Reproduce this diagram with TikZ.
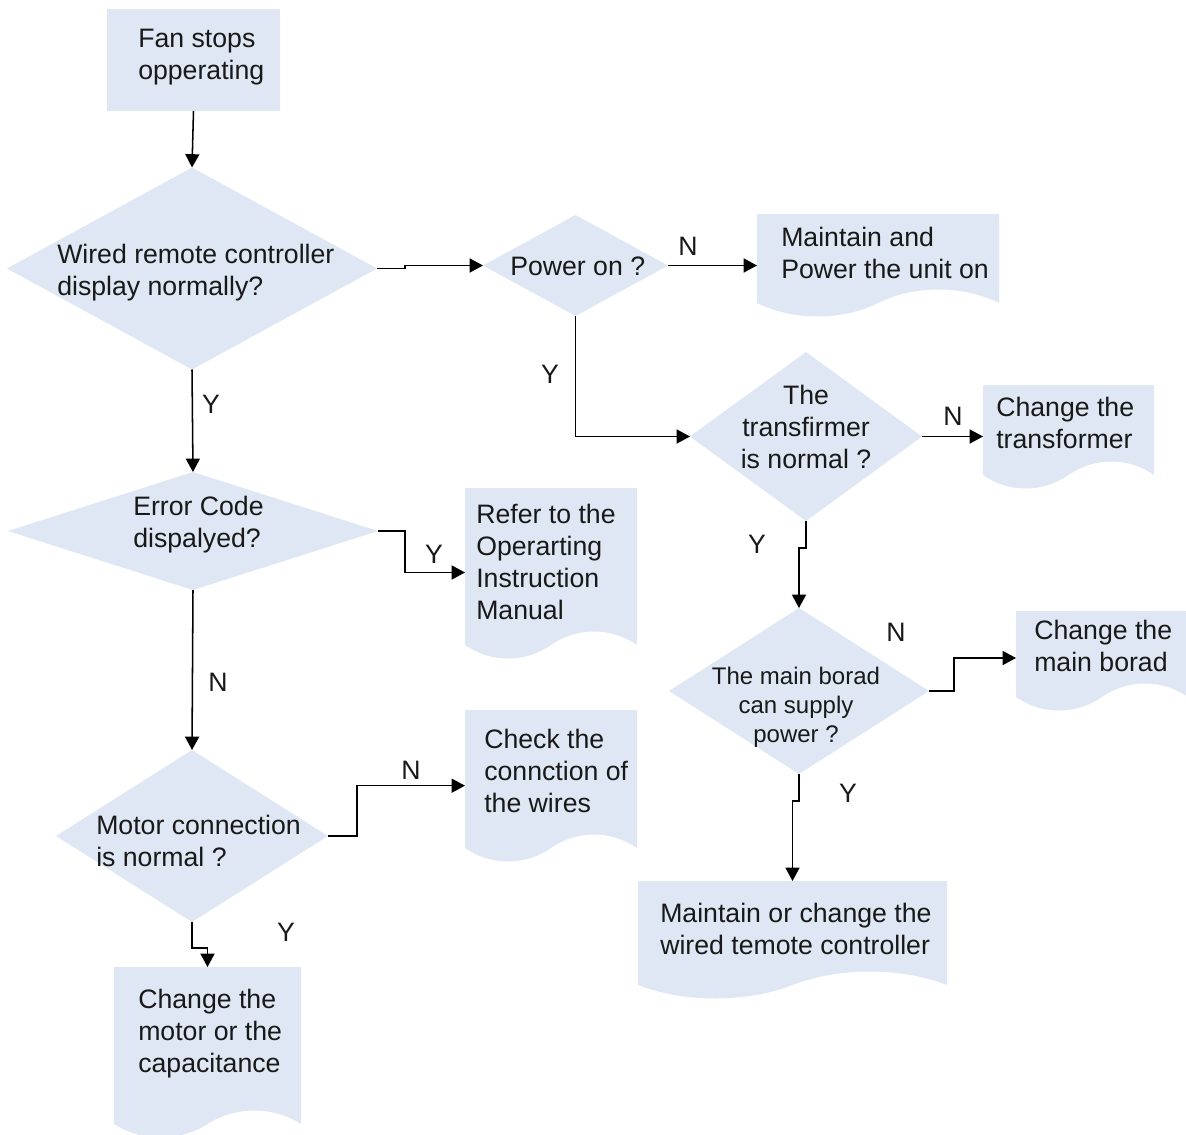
\documentclass[tikz,border=0pt]{standalone}
\usepackage{fontspec}
\setmainfont{Liberation Sans}
\usetikzlibrary{shapes.geometric,arrows.meta,calc}
\definecolor{boxfill}{RGB}{222,231,243}
\definecolor{ink}{RGB}{25,25,25}
\newcommand{\pxu}{*0.75pt}
\tikzset{
 dia/.style={diamond, fill=boxfill, draw=none, inner sep=0pt, outer sep=0pt},
 startbox/.style={rectangle, fill=boxfill, draw=none, inner sep=0pt, outer sep=0pt},
 docbox/.style={rectangle, draw=none, inner sep=0pt, outer sep=0pt, anchor=north west},
 txt/.style={font=\fontsize{20pt}{24pt}\selectfont, text=ink, inner sep=0pt, align=left, anchor=west},
 txtc/.style={txt, align=center, anchor=center},
 smalltxt/.style={font=\fontsize{18pt}{21.75pt}\selectfont},
 lab/.style={font=\fontsize{20pt}{24pt}\selectfont, text=ink, inner sep=0pt},
 arr/.style={draw=black, line width=1.15pt, -{Triangle[length=10pt,width=10.5pt]}},
}
\newcommand{\docshape}[5]{%
 \node[docbox, minimum width=#4\pxu, minimum height=#5\pxu] (#1) at (#2,#3) {};
 \fill[boxfill] (#1.south west) -- (#1.north west) -- (#1.north east) -- (#1.south east)
   .. controls ({#2+0.85*#4},{#3+#5-18}) and ({#2+0.65*#4},{#3+#5-18}) .. ({#2+0.5*#4},{#3+#5})
   .. controls ({#2+0.35*#4},{#3+#5+18}) and ({#2+0.15*#4},{#3+#5+18}) .. (#1.south west) -- cycle;
}
\begin{document}
\begin{tikzpicture}[x=0.75pt,y=-0.75pt]
\useasboundingbox (0,0) rectangle (1186,1135);

% start box
\node[startbox, minimum width=173\pxu, minimum height=102\pxu] (st) at (193.5,60) {};

% decisions
\node[dia, minimum width=370\pxu, minimum height=202\pxu] (d1) at (192,268.5) {};
\node[dia, minimum width=185\pxu, minimum height=101\pxu] (pw) at (575.5,265.5) {};
\node[dia, minimum width=232\pxu, minimum height=169\pxu] (tr) at (806,436.5) {};
\node[dia, minimum width=260\pxu, minimum height=166\pxu] (mb) at (799,691) {};
\node[dia, minimum width=370\pxu, minimum height=118\pxu] (ec) at (193,531) {};
\node[dia, minimum width=272\pxu, minimum height=172\pxu] (mo) at (192,836) {};

% documents
\docshape{m1}{757}{214}{242}{89}
\docshape{ct}{983}{385}{171}{90}
\docshape{cmb}{1016}{611}{172}{86}
\docshape{mw}{638}{881}{309}{104}
\docshape{rf}{465}{488}{172}{157}
\docshape{ck}{465}{710}{172}{138}
\docshape{cm}{114}{967}{187}{157}

% texts
\node[txt] (t1) at (138,57) {Fan stops\\opperating};
\node[txt] (t2) at (57,273) {Wired remote controller\\display normally?};
\node[txt] (t3) at (510,266) {Power on ?};
\node[txt] (t4) at (781,253) {Maintain and\\Power the unit on};
\node[txtc] (t5) at (806,427) {The\\transfirmer\\is normal ?};
\node[txt] (t6) at (996,423) {Change the\\transformer};
\node[txtc, smalltxt] (t7) at (796,707) {The main borad\\can supply\\power ?};
\node[txt] (t8) at (1034,646) {Change the\\main borad};
\node[txt] (t9) at (660,929) {Maintain or change the\\wired temote controller};
\node[txt] (t10) at (133,525) {Error Code\\dispalyed?};
\node[txt] (t11) at (476,562) {Refer to the\\Operarting\\Instruction\\Manual};
\node[txt] (t12) at (96,841) {Motor connection\\is normal ?};
\node[txt] (t13) at (484,771) {Check the\\connction of\\the wires};
\node[txt] (t14) at (138,1034) {Change the\\motor or the\\capacitance};

% labels
\node[lab] (l1) at (688,246) {N};
\node[lab] (l2) at (550,374) {Y};
\node[lab] (l3) at (953,416) {N};
\node[lab] (l4) at (757,544) {Y};
\node[lab] (l5) at (896,632) {N};
\node[lab] (l6) at (848,793) {Y};
\node[lab] (l7) at (211,404) {Y};
\node[lab] (l8) at (434,554) {Y};
\node[lab] (l9) at (218,682) {N};
\node[lab] (l10) at (411,770) {N};
\node[lab] (l11) at (286,932) {Y};

% connectors
\draw[arr] (st.south) -- (d1.north);
\draw[arr] (d1.east) -- ++(28,0) |- (pw.west);
\draw[arr] (pw.east) -- (pw.east -| m1.west);
\draw[arr] (pw.south) |- (tr.west);
\draw[arr] (tr.east) -- (tr.east -| ct.west);
\draw[arr] (tr.south) -- ++(0,27) -| (mb.north);
\draw[arr] (mb.east) -- ++(25,0) |- ([yshift=-3pt]cmb.west);
\draw[arr] (mb.south) -- ++(0,27) -| (mw.north);
\draw[arr] (d1.south) -- (ec.north);
\draw[arr] (ec.east) -- ++(27,0) |- ([yshift=-4.5pt]rf.west);
\draw[arr] (ec.south) -- (mo.north);
\draw[arr] (mo.east) -- ++(29,0) |- ([yshift=-5pt]ck.west);
\draw[arr] (mo.south) -- ++(0,26) -| (cm.north);
\end{tikzpicture}
\end{document}
